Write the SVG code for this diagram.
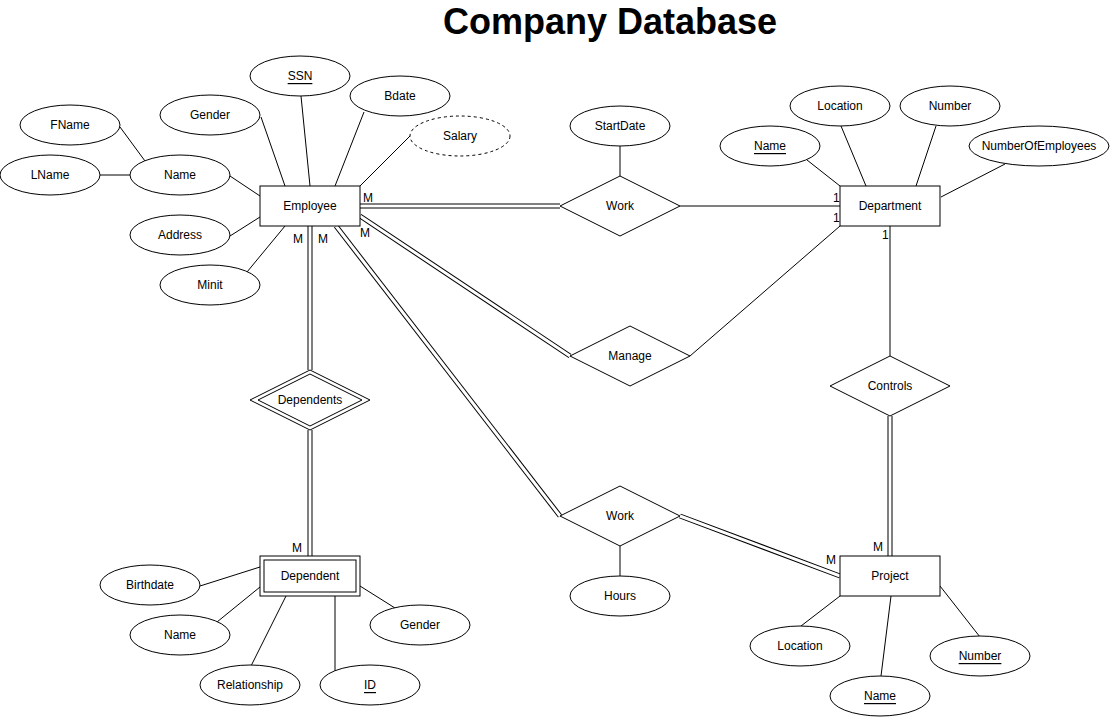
<svg xmlns="http://www.w3.org/2000/svg" width="1111" height="718" viewBox="0 0 1111 718">
  <style>
    .ent { fill: #fff; stroke: #000; stroke-width: 1; }
    .attr { fill: #fff; stroke: #000; stroke-width: 1; }
    .derived { fill: #fff; stroke: #000; stroke-width: 1; stroke-dasharray: 3 3; }
    .rel { fill: #fff; stroke: #000; stroke-width: 1; }
    .ln { stroke: #000; stroke-width: 1; fill: none; }
    .dbl-o { stroke: #000; stroke-width: 5; fill: none; }
    .dbl-i { stroke: #fff; stroke-width: 3; fill: none; }
    text { font-family: "Liberation Sans", Arial, sans-serif; font-size: 12px; fill: #000; }
    .c { text-anchor: middle; dominant-baseline: central; }
    .key { text-decoration: underline; }
    .title { font-size: 36px; font-weight: bold; text-anchor: middle; }
  </style>

  <rect x="0" y="0" width="1111" height="718" fill="#fff"/>

  <text class="title" x="610" y="34">Company Database</text>

  <!-- connectors -->
  <g id="connectors">
    <!-- Employee attributes -->
    <line class="ln" x1="120" y1="127" x2="145" y2="161"/>
    <line class="ln" x1="100" y1="175" x2="130" y2="175"/>
    <line class="ln" x1="230" y1="176" x2="260" y2="196"/>
    <line class="ln" x1="261" y1="117" x2="285" y2="186"/>
    <line class="ln" x1="301" y1="96" x2="310" y2="186"/>
    <line class="ln" x1="364" y1="112" x2="335" y2="186"/>
    <line class="ln" x1="410" y1="136" x2="360" y2="186"/>
    <line class="ln" x1="230" y1="236" x2="260" y2="217"/>
    <line class="ln" x1="247" y1="272" x2="285" y2="226"/>

    <!-- Department attributes -->
    <line class="ln" x1="807" y1="160" x2="840" y2="186"/>
    <line class="ln" x1="841" y1="126" x2="866" y2="186"/>
    <line class="ln" x1="936" y1="126" x2="916" y2="186"/>
    <line class="ln" x1="1005" y1="164" x2="941" y2="197"/>

    <!-- Work (top) -->
    <line class="dbl-o" x1="360" y1="206" x2="560" y2="206"/>
    <line class="dbl-i" x1="360" y1="206" x2="560" y2="206"/>
    <line class="ln" x1="680" y1="206" x2="840" y2="206"/>
    <line class="ln" x1="620" y1="146" x2="620" y2="176"/>

    <!-- Manage -->
    <line class="dbl-o" x1="360" y1="216" x2="570" y2="356"/>
    <line class="dbl-i" x1="360" y1="216" x2="570" y2="356"/>
    <line class="ln" x1="690" y1="356" x2="840" y2="226"/>

    <!-- Controls -->
    <line class="ln" x1="890" y1="226" x2="890" y2="356"/>
    <line class="dbl-o" x1="890" y1="416" x2="890" y2="556"/>
    <line class="dbl-i" x1="890" y1="416" x2="890" y2="556"/>

    <!-- Work (bottom) -->
    <line class="dbl-o" x1="336" y1="226" x2="560" y2="516"/>
    <line class="dbl-i" x1="336" y1="226" x2="560" y2="516"/>
    <line class="dbl-o" x1="680" y1="516" x2="840" y2="576"/>
    <line class="dbl-i" x1="680" y1="516" x2="840" y2="576"/>
    <line class="ln" x1="620" y1="546" x2="620" y2="576"/>

    <!-- Dependents -->
    <line class="dbl-o" x1="310" y1="226" x2="310" y2="370"/>
    <line class="dbl-i" x1="310" y1="226" x2="310" y2="370"/>
    <line class="dbl-o" x1="310" y1="430" x2="310" y2="556"/>
    <line class="dbl-i" x1="310" y1="430" x2="310" y2="556"/>

    <!-- Dependent attributes -->
    <line class="ln" x1="200" y1="586" x2="260" y2="567"/>
    <line class="ln" x1="217" y1="622" x2="260" y2="587"/>
    <line class="ln" x1="251" y1="666" x2="286" y2="596"/>
    <line class="ln" x1="335" y1="596" x2="335" y2="672"/>
    <line class="ln" x1="360" y1="586" x2="395" y2="608"/>

    <!-- Project attributes -->
    <line class="ln" x1="801" y1="626" x2="840" y2="596"/>
    <line class="ln" x1="881" y1="676" x2="891" y2="596"/>
    <line class="ln" x1="980" y1="637" x2="940" y2="586"/>
  </g>

  <!-- cardinality labels -->
  <g id="cardinalities">
    <text x="363" y="202">M</text>
    <text x="360" y="237">M</text>
    <text x="293" y="243">M</text>
    <text x="318" y="243">M</text>
    <text x="292" y="552">M</text>
    <text x="873" y="551">M</text>
    <text x="826" y="564">M</text>
    <text x="833" y="202">1</text>
    <text x="833" y="222">1</text>
    <text x="882" y="239">1</text>
  </g>

  <!-- entities -->
  <g id="employee">
    <rect class="ent" x="260" y="186" width="100" height="40"/>
    <text class="c" x="310" y="206">Employee</text>
  </g>
  <g id="department">
    <rect class="ent" x="840" y="186" width="100" height="40"/>
    <text class="c" x="890" y="206">Department</text>
  </g>
  <g id="project">
    <rect class="ent" x="840" y="556" width="100" height="40"/>
    <text class="c" x="890" y="576">Project</text>
  </g>
  <g id="dependent">
    <rect class="ent" x="260" y="556" width="100" height="40"/>
    <rect class="ent" x="264" y="560" width="92" height="32"/>
    <text class="c" x="310" y="576">Dependent</text>
  </g>

  <!-- relationships -->
  <g id="work-top">
    <polygon class="rel" points="620,176 680,206 620,236 560,206"/>
    <text class="c" x="620" y="206">Work</text>
  </g>
  <g id="manage">
    <polygon class="rel" points="630,326 690,356 630,386 570,356"/>
    <text class="c" x="630" y="356">Manage</text>
  </g>
  <g id="controls">
    <polygon class="rel" points="890,356 950,386 890,416 830,386"/>
    <text class="c" x="890" y="386">Controls</text>
  </g>
  <g id="work-bottom">
    <polygon class="rel" points="620,486 680,516 620,546 560,516"/>
    <text class="c" x="620" y="516">Work</text>
  </g>
  <g id="dependents">
    <polygon class="rel" points="310,370 370,400 310,430 250,400"/>
    <polygon class="rel" points="310,374 362,400 310,426 258,400"/>
    <text class="c" x="310" y="400">Dependents</text>
  </g>

  <!-- Employee attributes -->
  <g id="emp-fname">
    <ellipse class="attr" cx="70" cy="125" rx="50" ry="20"/>
    <text class="c" x="70" y="125">FName</text>
  </g>
  <g id="emp-lname">
    <ellipse class="attr" cx="50" cy="175" rx="50" ry="20"/>
    <text class="c" x="50" y="175">LName</text>
  </g>
  <g id="emp-name">
    <ellipse class="attr" cx="180" cy="175" rx="50" ry="20"/>
    <text class="c" x="180" y="175">Name</text>
  </g>
  <g id="emp-gender">
    <ellipse class="attr" cx="210" cy="115" rx="50" ry="20"/>
    <text class="c" x="210" y="115">Gender</text>
  </g>
  <g id="emp-ssn">
    <ellipse class="attr" cx="300" cy="76" rx="50" ry="20"/>
    <text class="c key" x="300" y="76">SSN</text>
  </g>
  <g id="emp-bdate">
    <ellipse class="attr" cx="400" cy="96" rx="50" ry="20"/>
    <text class="c" x="400" y="96">Bdate</text>
  </g>
  <g id="emp-salary">
    <ellipse class="derived" cx="460" cy="136" rx="50" ry="20"/>
    <text class="c" x="460" y="136">Salary</text>
  </g>
  <g id="emp-address">
    <ellipse class="attr" cx="180" cy="235" rx="50" ry="20"/>
    <text class="c" x="180" y="235">Address</text>
  </g>
  <g id="emp-minit">
    <ellipse class="attr" cx="210" cy="285" rx="50" ry="20"/>
    <text class="c" x="210" y="285">Minit</text>
  </g>

  <!-- Work attribute -->
  <g id="work-startdate">
    <ellipse class="attr" cx="620" cy="126" rx="50" ry="20"/>
    <text class="c" x="620" y="126">StartDate</text>
  </g>
  <g id="work-hours">
    <ellipse class="attr" cx="620" cy="596" rx="50" ry="20"/>
    <text class="c" x="620" y="596">Hours</text>
  </g>

  <!-- Department attributes -->
  <g id="dept-name">
    <ellipse class="attr" cx="770" cy="146" rx="50" ry="20"/>
    <text class="c key" x="770" y="146">Name</text>
  </g>
  <g id="dept-location">
    <ellipse class="attr" cx="840" cy="106" rx="50" ry="20"/>
    <text class="c" x="840" y="106">Location</text>
  </g>
  <g id="dept-number">
    <ellipse class="attr" cx="950" cy="106" rx="50" ry="20"/>
    <text class="c" x="950" y="106">Number</text>
  </g>
  <g id="dept-numemployees">
    <ellipse class="attr" cx="1039" cy="146" rx="70" ry="20"/>
    <text class="c" x="1039" y="146">NumberOfEmployees</text>
  </g>

  <!-- Dependent attributes -->
  <g id="dep-birthdate">
    <ellipse class="attr" cx="150" cy="585" rx="50" ry="20"/>
    <text class="c" x="150" y="585">Birthdate</text>
  </g>
  <g id="dep-name">
    <ellipse class="attr" cx="180" cy="635" rx="50" ry="20"/>
    <text class="c" x="180" y="635">Name</text>
  </g>
  <g id="dep-relationship">
    <ellipse class="attr" cx="250" cy="685" rx="50" ry="20"/>
    <text class="c" x="250" y="685">Relationship</text>
  </g>
  <g id="dep-id">
    <ellipse class="attr" cx="370" cy="685" rx="50" ry="20"/>
    <text class="c key" x="370" y="685">ID</text>
  </g>
  <g id="dep-gender">
    <ellipse class="attr" cx="420" cy="625" rx="50" ry="20"/>
    <text class="c" x="420" y="625">Gender</text>
  </g>

  <!-- Project attributes -->
  <g id="proj-location">
    <ellipse class="attr" cx="800" cy="646" rx="50" ry="20"/>
    <text class="c" x="800" y="646">Location</text>
  </g>
  <g id="proj-name">
    <ellipse class="attr" cx="880" cy="696" rx="50" ry="20"/>
    <text class="c key" x="880" y="696">Name</text>
  </g>
  <g id="proj-number">
    <ellipse class="attr" cx="980" cy="656" rx="50" ry="20"/>
    <text class="c key" x="980" y="656">Number</text>
  </g>
</svg>
